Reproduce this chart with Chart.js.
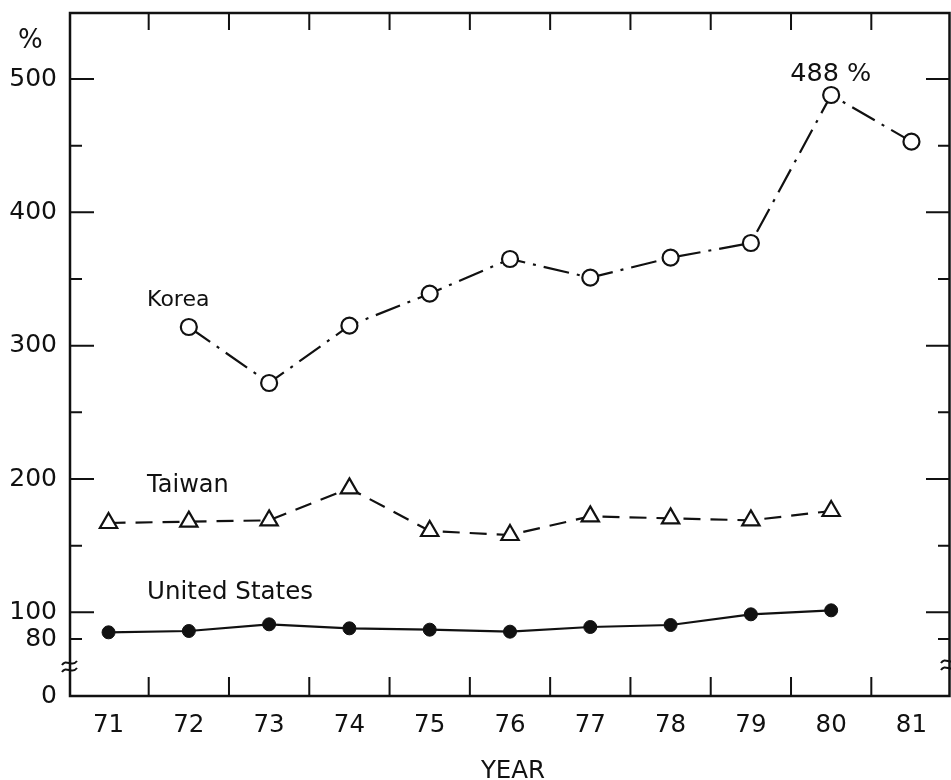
<!DOCTYPE html>
<html><head><meta charset="utf-8">
<script src="https://cdn.jsdelivr.net/npm/chart.js@4/dist/chart.umd.min.js"></script>
<style>html,body{margin:0;padding:0;background:#fff}#wrap{width:951px;height:780px}</style>
</head><body><div id="wrap"><canvas id="c" width="951" height="780"></canvas></div>
<script>
// ---- data ----
const years = [71, 72, 73, 74, 75, 76, 77, 78, 79, 80, 81];
const korea = [null, 314, 272, 315, 339, 365, 351, 366, 377, 488, 453];
const taiwan = [167, 168, 169, 193, 161, 158, 172, 170.5, 169, 176, null];
const unitedStates = [85, 86, 91, 88, 87, 85.5, 89, 90.5, 98.5, 101.5, null];
const yTickValues = [80, 100, 200, 300, 400, 500];
const yMajorTicks = [100, 200, 300, 400, 500];
const yMinorTicks = [80, 150, 250, 350, 450];
const xFrameTicks = [71.5, 72.5, 73.5, 74.5, 75.5, 76.5, 77.5, 78.5, 79.5, 80.5];
const seriesNames = ['Korea', 'Taiwan', 'United States'];
const peakLabel = '488 %';
const yUnit = '%';
const xTitle = 'YEAR';

const X_MIN = 70.52, X_MAX = 81.48;
const Y_MIN = 37.25, Y_MAX = 549.5;
const FONT = "'DejaVu Sans', sans-serif";
const INK = '#111';

const pts = arr => years.map((yr, i) => ({x: yr, y: arr[i]})).filter(p => p.y !== null);

const annotations = [
  {text: seriesNames[0], x: 71.48, y: 330, size: 22},
  {text: seriesNames[1], x: 71.48, y: 190, size: 24},
  {text: seriesNames[2], x: 71.48, y: 110, size: 24.5},
  {text: peakLabel, x: 79.49, y: 498.5, size: 25.5}
];

const framePlugin = {
  id: 'frame',
  afterDraw(chart) {
    const {ctx, chartArea: a, scales: {x, y}} = chart;
    ctx.save();
    ctx.strokeStyle = INK;
    ctx.lineWidth = 2.5;
    ctx.strokeRect(a.left, a.top, a.right - a.left - 0.5, a.bottom - a.top);
    ctx.lineWidth = 2;
    ctx.beginPath();
    xFrameTicks.forEach(v => {
      const px = x.getPixelForValue(v);
      ctx.moveTo(px, a.top); ctx.lineTo(px, a.top + 17);
      ctx.moveTo(px, a.bottom); ctx.lineTo(px, a.bottom - 19);
    });
    yMajorTicks.forEach(v => {
      const py = y.getPixelForValue(v);
      ctx.moveTo(a.left, py); ctx.lineTo(a.left + 24, py);
      ctx.moveTo(a.right, py); ctx.lineTo(a.right - 24, py);
    });
    yMinorTicks.forEach(v => {
      const py = y.getPixelForValue(v);
      ctx.moveTo(a.left, py); ctx.lineTo(a.left + 12, py);
      ctx.moveTo(a.right, py); ctx.lineTo(a.right - 12, py);
    });
    ctx.stroke();
    // axis break marks
    const by = (y.getPixelForValue(80) + a.bottom) / 2 - 1;
    [[a.left, 0], [a.right - 1, -2]].forEach(([bx, dy]) => {
      ctx.beginPath();
      for (const off of [-3.5, 3.5]) {
        const yy = by + off + dy;
        ctx.moveTo(bx - 8, yy + 2);
        ctx.bezierCurveTo(bx - 4, yy - 5, bx + 2, yy + 5, bx + 7, yy - 2);
      }
      ctx.lineWidth = 2;
      ctx.stroke();
    });
    // texts
    ctx.fillStyle = INK;
    ctx.textBaseline = 'alphabetic';
    ctx.textAlign = 'left';
    annotations.forEach(t => {
      ctx.font = t.size + 'px ' + FONT;
      ctx.fillText(t.text, x.getPixelForValue(t.x), y.getPixelForValue(t.y));
    });
    ctx.font = '26px ' + FONT;
    ctx.fillText(yUnit, 18, 48);
    ctx.font = '24.5px ' + FONT;
    ctx.textAlign = 'center';
    ctx.fillText(xTitle, (a.left + a.right) / 2 + 3, 778);
    ctx.restore();
  }
};

new Chart(document.getElementById('c'), {
  type: 'line',
  data: {
    datasets: [
      {
        label: seriesNames[0], data: pts(korea),
        borderColor: INK, borderWidth: 2.2, borderDash: [26, 8, 3, 8],
        pointStyle: 'circle', pointRadius: 8, pointBorderWidth: 2.2,
        pointBackgroundColor: '#fff', pointBorderColor: INK, tension: 0
      },
      {
        label: seriesNames[1], data: pts(taiwan),
        borderColor: INK, borderWidth: 2.2, borderDash: [17, 10],
        pointStyle: 'triangle', pointRadius: 10, pointBorderWidth: 2.2,
        pointBackgroundColor: '#fff', pointBorderColor: INK, tension: 0
      },
      {
        label: seriesNames[2], data: pts(unitedStates),
        borderColor: INK, borderWidth: 2.2,
        pointStyle: 'circle', pointRadius: 6.5, pointBorderWidth: 1,
        pointBackgroundColor: INK, pointBorderColor: INK, tension: 0
      }
    ]
  },
  options: {
    responsive: false, animation: false, devicePixelRatio: 1,
    layout: {autoPadding: false, padding: {top: 13, right: 1, left: 0, bottom: 0}},
    plugins: {legend: {display: false}, tooltip: {enabled: false}, title: {display: false}},
    scales: {
      x: {
        type: 'linear', min: X_MIN, max: X_MAX,
        grid: {display: false, drawTicks: false}, border: {display: false},
        afterBuildTicks: s => { s.ticks = years.map(v => ({value: v})); },
        afterFit: s => { s.height = 84; s.paddingLeft = 0; s.paddingRight = 0; },
        ticks: {autoSkip: false, maxRotation: 0, padding: 15, color: INK,
          font: {family: FONT, size: 24.5}, callback: v => String(v)}
      },
      y: {
        type: 'linear', min: Y_MIN, max: Y_MAX,
        grid: {display: false, drawTicks: false}, border: {display: false},
        afterBuildTicks: s => { s.ticks = [Y_MIN, ...yTickValues].map(v => ({value: v})); },
        afterFit: s => { s.width = 70; s.paddingTop = 0; s.paddingBottom = 0; },
        ticks: {autoSkip: false, padding: 13, color: INK,
          font: {family: FONT, size: 25}, callback: v => (v === Y_MIN ? '0' : String(v))}
      }
    }
  },
  plugins: [framePlugin]
});
</script></body></html>
